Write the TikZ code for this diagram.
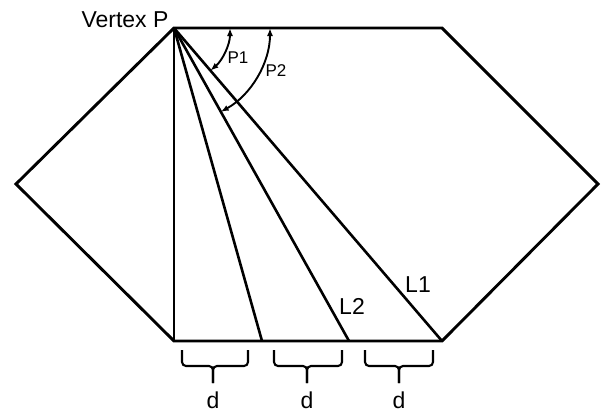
\documentclass[tikz,border=0pt]{standalone}
\usepackage{fontspec}
\setmainfont{Liberation Sans}
\usetikzlibrary{arrows.meta}

\begin{document}
\begin{tikzpicture}[
    x=1pt, y=-1pt,
    edge/.style={line width=2.9pt, line join=miter},
    ray/.style={line width=2.6pt},
    angarr/.style={{Latex[length=8pt,width=6pt]}-{Latex[length=8pt,width=6pt]}, line width=1.9pt},
    brc/.style={line width=2.1pt, rounded corners=4pt},
    lbl/.style={font=\fontsize{23}{27}\selectfont, inner sep=0pt},
    sml/.style={font=\fontsize{17}{20}\selectfont, inner sep=0pt}
]
\useasboundingbox (0,0) rectangle (601,415);
% hexagon corners
\coordinate (P) at (174,28);
\coordinate (tr) at (442,28);
\coordinate (rt) at (598,184);
\coordinate (br) at (442,341);
\coordinate (bl) at (174,341);
\coordinate (lt) at (16,184);
% feet of the lines on the base
\coordinate (b1) at (262,341);
\coordinate (b2) at (349,341);

\draw[edge] (P) -- (tr) -- (rt) -- (br) -- (bl) -- (lt) -- cycle;
\draw[ray] (P) -- (bl);
\draw[ray] (P) -- (b1);
\draw[ray] (P) -- (b2);
\draw[ray] (P) -- (br);

% angles
\draw[angarr] ([shift={(0:56)}]P) arc[start angle=0, end angle=49.5, radius=56];
\draw[angarr] ([shift={(0:96)}]P) arc[start angle=0, end angle=60.9, radius=96];

\node[lbl] (vtx) at (125,20) {Vertex P};
\node[sml] (p1) at (238,58) {P1};
\node[sml] (p2) at (276,71) {P2};
\node[lbl] (l1) at (418,285) {L1};
\node[lbl] (l2) at (352,306) {L2};

% braces under the base
\foreach \a/\b/\c [count=\i] in {182/248/213, 274/342/307, 365/433/399} {
  \draw[brc] (\a,350) -- (\a,366) -- (\c,366) -- (\c,383);
  \draw[brc] (\b,350) -- (\b,366) -- (\c,366) -- (\c,383);
  \node[lbl] (d\i) at (\c,400) {d};
}
\end{tikzpicture}
\end{document}
